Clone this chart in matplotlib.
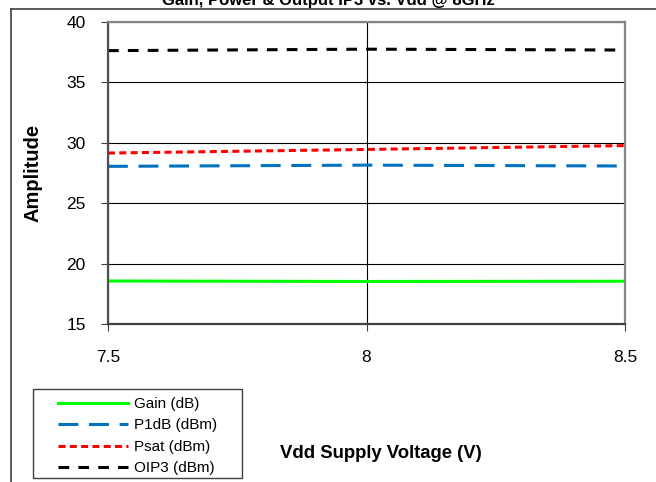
import matplotlib
matplotlib.use("Agg")
import matplotlib.pyplot as plt
from matplotlib.lines import Line2D
from matplotlib.patches import Rectangle

plt.rcParams['font.family'] = ['Liberation Sans', 'DejaVu Sans']

# measured at Vdd = 7.5, 8, 8.5 V
vdd = [7.5, 8.0, 8.5]
gain = [18.56, 18.52, 18.54]
p1db = [28.05, 28.15, 28.08]
psat = [29.15, 29.45, 29.77]
oip3 = [37.63, 37.75, 37.68]

W, H = 656, 482
fig = plt.figure(figsize=(W / 100, H / 100), dpi=100)
ax = fig.add_axes([108 / W, 1 - 324 / H, 517 / W, 302 / H])

ax.plot(vdd, gain, color='#00ff00', lw=2.2, label='Gain (dB)')
ax.plot(vdd, p1db, color='#0070c0', lw=2.2, dashes=(6.5, 3.5), label='P1dB (dBm)')
ax.plot(vdd, psat, color='#ff0000', lw=2.2, dashes=(2.3, 1.4), label='Psat (dBm)')
ax.plot(vdd, oip3, color='black', lw=2.2, dashes=(3.5, 3), label='OIP3 (dBm)')

ax.set_xlim(7.5, 8.5)
ax.set_ylim(15, 40)
ax.set_xticks([7.5, 8, 8.5])
ax.set_xticklabels(['7.5', '8', '8.5'])
ax.set_yticks([15, 20, 25, 30, 35, 40])
ax.grid(True, color='black', lw=0.8)
ax.set_axisbelow(True)
for s in ax.spines.values():
    s.set_color('#858585')
    s.set_linewidth(1.6)
ax.spines['left'].set_color('#505050')
ax.spines['bottom'].set_color('#404040')
ax.tick_params(axis='both', labelsize=12.5, color='#404040', length=5)
ax.tick_params(axis='y', pad=11)
ax.tick_params(axis='x', pad=14)

ax.set_ylabel('Amplitude', fontsize=14.5, fontweight='bold')
ax.yaxis.set_label_coords(-0.127, 0.5)
fig.text(0.58, 0.06, 'Vdd Supply Voltage (V)', fontsize=13.3, fontweight='bold',
         ha='center', va='center')
fig.text(0.5, 1.0, 'Gain, Power & Output IP3 vs. Vdd @ 8GHz', fontsize=12,
         fontweight='bold', ha='center', va='center')

# legend box drawn separately so the padding can be wider on the sides
fig.legend(loc='upper left', bbox_to_anchor=(58 / W, 1 - 397 / H), fontsize=11,
           handlelength=4.6, handletextpad=0.4, labelspacing=0.49,
           borderpad=0, borderaxespad=0, frameon=False)
fig.add_artist(Rectangle((33 / W, 4 / H), 209 / W, 89 / H, fill=False,
                         edgecolor='#404040', lw=1.0, transform=fig.transFigure))

# outer chart border
fig.add_artist(Line2D([11 / W, 1], [1 - 9 / H, 1 - 9 / H], color='#404040', lw=1.2))
fig.add_artist(Line2D([11 / W, 11 / W], [0, 1 - 9 / H], color='#404040', lw=1.2))

fig.savefig('out.png', dpi=100)
